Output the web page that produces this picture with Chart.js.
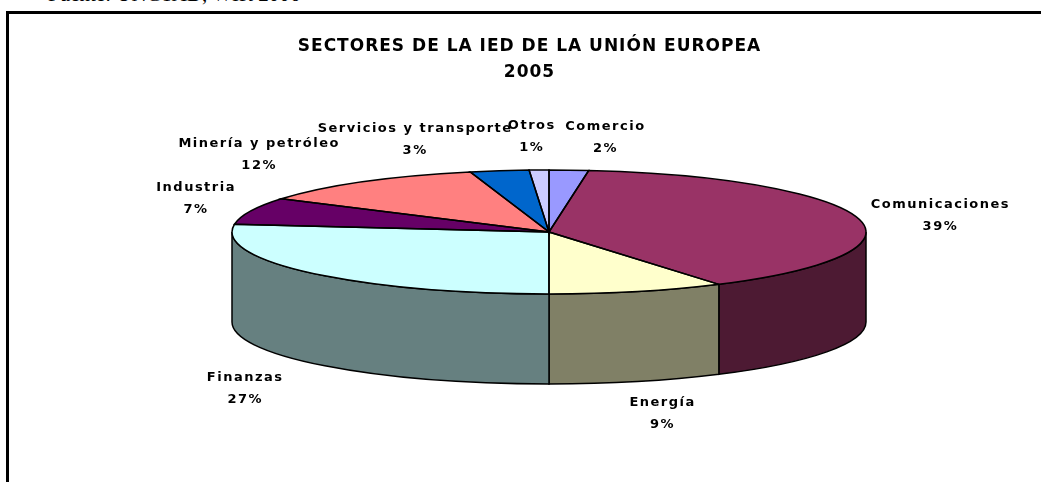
<!DOCTYPE html>
<html>
<head>
<meta charset="utf-8">
<script src="https://cdn.jsdelivr.net/npm/chart.js@4.4.1/dist/chart.umd.min.js"></script>
<style>
  body { margin: 0; background: #fff; overflow: hidden; }
  #source { position: absolute; left: 48px; top: -18px; font: 21px "Liberation Serif", serif; white-space: nowrap; }
  #frame { position: absolute; left: 6px; top: 11px; width: 1100px; height: 520px; border: 3px solid #000; }
  #wrap { position: absolute; left: 0; top: 0; width: 1041px; height: 482px; }
</style>
</head>
<body>
<div id="source">Fuente: UNCTAD, WIR 2006</div>
<div id="frame"></div>
<div id="wrap"><canvas id="chart"></canvas></div>
<script>
const sectors = ['Comercio', 'Comunicaciones', 'Energía', 'Finanzas', 'Industria', 'Minería y petróleo', 'Servicios y transporte', 'Otros'];
const shares = [2, 39, 9, 27, 7, 12, 3, 1];
const titleLines = ['SECTORES DE LA IED DE LA UNIÓN EUROPEA', '2005'];

const topColors = ['#9999FF', '#993366', '#FFFFCC', '#CCFFFF', '#660066', '#FF8080', '#0066CC', '#CCCCFF'];
const sideColors = ['#4D4D80', '#4D1A33', '#808066', '#668080', '#330033', '#804040', '#003366', '#666680'];
// small shifts so the labels sit where excel put them
const labelNudge = [[34, 2], [43, 5], [14, -2], [-36, 2], [-17, -1], [-80, 1], [-78, 3], [-6, 2]];

// where the tilted pie goes on the page
const view = { cx: 549, cy: 232, rx: 317, ry: 62, depth: 90 };

const pie3d = {
    id: 'pie3d',
    beforeDraw(chart) {
        chart.ctx.letterSpacing = '1px';
    },
    beforeDatasetsDraw(chart) {
        const ctx = chart.ctx;
        ctx.letterSpacing = '0px';
        const arcs = chart.getDatasetMeta(0).data;
        // side walls, only the front half shows
        arcs.forEach((arc, i) => {
            const a1 = Math.max(arc.startAngle, 0);
            const a2 = Math.min(arc.endAngle, Math.PI);
            if (a2 <= a1) return;
            ctx.beginPath();
            ctx.ellipse(view.cx, view.cy, view.rx, view.ry, 0, a1, a2);
            ctx.ellipse(view.cx, view.cy + view.depth, view.rx, view.ry, 0, a2, a1, true);
            ctx.closePath();
            ctx.fillStyle = sideColors[i];
            ctx.fill();
            ctx.lineWidth = 1.5;
            ctx.strokeStyle = '#000';
            ctx.stroke();
        });
        // squash the flat pie chart.js draws into the top face
        const arc = arcs[0];
        const R = arc.outerRadius;
        ctx.save();
        ctx.translate(view.cx, view.cy);
        ctx.scale(view.rx / R, view.ry / R);
        ctx.translate(-arc.x, -arc.y);
    },
    afterDatasetsDraw(chart) {
        const ctx = chart.ctx;
        ctx.restore();
        const arcs = chart.getDatasetMeta(0).data;
        ctx.save();
        ctx.lineWidth = 1.5;
        ctx.strokeStyle = '#000';
        arcs.forEach(arc => {
            ctx.beginPath();
            ctx.moveTo(view.cx, view.cy);
            ctx.ellipse(view.cx, view.cy, view.rx, view.ry, 0, arc.startAngle, arc.endAngle);
            ctx.closePath();
            ctx.stroke();
        });
        ctx.restore();
    },
    afterDraw(chart) {
        const ctx = chart.ctx;
        const arcs = chart.getDatasetMeta(0).data;
        ctx.save();
        ctx.font = 'bold 13px "DejaVu Sans"';
        ctx.letterSpacing = '1.5px';
        ctx.fillStyle = '#000';
        ctx.textAlign = 'center';
        ctx.textBaseline = 'middle';
        arcs.forEach((arc, i) => {
            const mid = (arc.startAngle + arc.endAngle) / 2;
            const s = Math.sin(mid);
            const x = view.cx + (view.rx + 40) * Math.cos(mid) + labelNudge[i][0];
            const y = view.cy + (view.ry + 35) * s + (s > 0 ? view.depth : 0) + labelNudge[i][1];
            ctx.fillText(sectors[i], x, y - 11);
            ctx.fillText(shares[i] + '%', x, y + 11);
        });
        ctx.restore();
        ctx.letterSpacing = '0px';
    }
};

new Chart(document.getElementById('chart'), {
    type: 'pie',
    data: {
        labels: sectors,
        datasets: [{
            data: shares,
            backgroundColor: topColors,
            borderWidth: 0,
            clip: false
        }]
    },
    options: {
        responsive: true,
        maintainAspectRatio: false,
        animation: false,
        layout: { padding: { left: 18 } },
        plugins: {
            legend: { display: false },
            tooltip: { enabled: false },
            title: {
                display: true,
                text: titleLines,
                color: '#000',
                font: { family: 'DejaVu Sans', size: 17, weight: 'bold', lineHeight: 1.5 },
                padding: { top: 34, bottom: 20 }
            }
        }
    },
    plugins: [pie3d]
});
</script>
</body>
</html>
